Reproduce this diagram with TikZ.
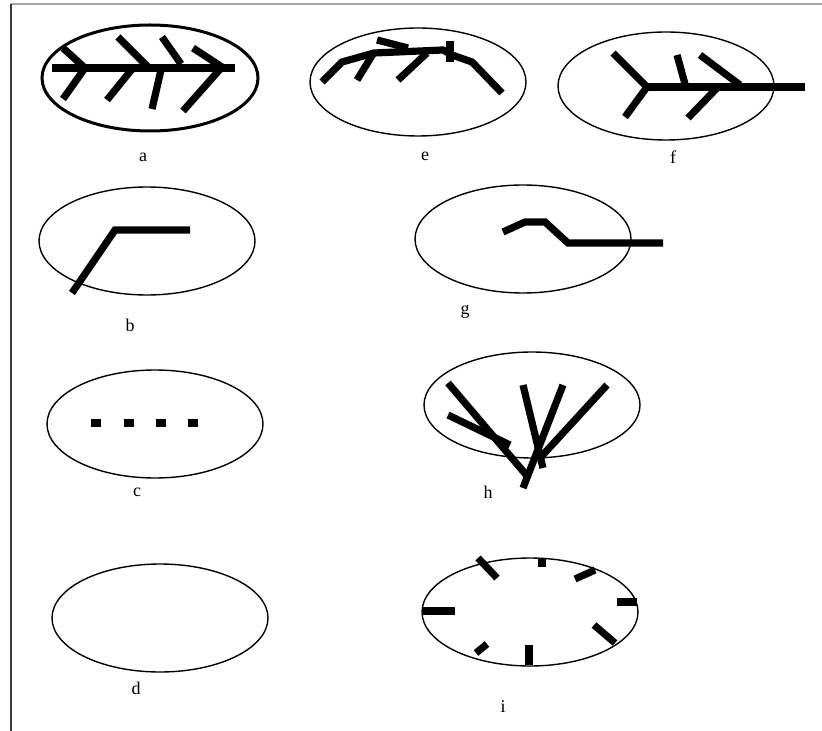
\documentclass[tikz,border=0pt]{standalone}
\usepackage{fontspec}
\setmainfont{Liberation Serif}
\usetikzlibrary{positioning}

\begin{document}
\begin{tikzpicture}[
  x=0.5pt, y=-0.5pt,
  frame/.style={line width=1pt},
  outline/.style={line width=0.7pt},
  boldoutline/.style={line width=1.5pt},
  bar/.style={line width=3.6pt, line cap=butt, line join=miter},
  dot/.style={fill=black, inner sep=0pt, minimum width=5pt, minimum height=4pt},
  tag/.style={font=\fontsize{9}{10}\selectfont, inner sep=0pt}
]
\useasboundingbox (0,0) rectangle (822,731);
% frame
\draw[frame, gray!70] (11,4.5) -- (822,4.5);
\draw[frame, gray!45!black] (11,4.5) -- (11,731);

% a
\draw[boldoutline] (150,78) ellipse [x radius=54pt, y radius=26.5pt];
\draw[bar] (52,68) -- (235,68);
\draw[bar] (63,48) -- (85,68) -- (63,99);
\draw[bar] (118,37) -- (148,67);
\draw[bar] (133,68) -- (107,100);
\draw[bar] (162,37) -- (181,64);
\draw[bar] (161,70) -- (152,109);
\draw[bar] (193,48) -- (222,67) -- (183,111);
\node[tag] (la) at (143,157) {a};

% e
\draw[outline] (418,82) ellipse [x radius=54pt, y radius=27pt];
\draw[bar] (322,82) -- (342,62) -- (374,53) -- (443,50) -- (452,55) -- (472,62) -- (502,93);
\draw[bar] (377,40) -- (408,48);
\draw[bar] (357,80) -- (373,54);
\draw[bar] (398,80) -- (427,53);
\draw[bar] (450,41) -- (450,62);
\node[tag] (le) at (425,156) {e};

% f
\draw[outline] (666,86) ellipse [x radius=54pt, y radius=27pt];
\draw[bar] (647,87) -- (805,87);
\draw[bar] (613,53) -- (647,87) -- (625,117);
\draw[bar] (677,55) -- (685,84);
\draw[bar] (717,88) -- (688,118);
\draw[bar] (700,55) -- (740,85);
\node[tag] (lf) at (673,157) {f};

% b
\draw[outline] (147,241) ellipse [x radius=54pt, y radius=27pt];
\draw[bar] (72,293) -- (115,230) -- (190,230);
\node[tag] (lb) at (130,325) {b};

% g
\draw[outline] (523,239) ellipse [x radius=54pt, y radius=27pt];
\draw[bar] (503,232) -- (525,222) -- (545,222) -- (568,243) -- (663,243);
\node[tag] (lg) at (465,312) {g};

% c
\draw[outline] (155,424) ellipse [x radius=54pt, y radius=27pt];
\foreach \px [count=\k] in {96,129,161,193}
  \node[dot] (sq\k) at (\px,423) {};
\node[tag] (lc) at (137,492) {c};

% h
\draw[outline] (532,405) ellipse [x radius=54pt, y radius=26.5pt];
\draw[bar] (448,383) -- (528,477);
\draw[bar] (448,415) -- (510,445);
\draw[bar] (523,385) -- (543,468);
\draw[bar] (563,385) -- (523,488);
\draw[bar] (607,385) -- (540,458);
\node[tag] (lh) at (488,492) {h};

% d
\draw[outline] (160,618) ellipse [x radius=54pt, y radius=27pt];
\node[tag] (ld) at (136,688) {d};

% i
\draw[outline] (530,612) ellipse [x radius=54pt, y radius=27pt];
\draw[bar] (478,558) -- (497,578);
\draw[bar] (542,558) -- (542,567);
\draw[bar] (575,579) -- (595,570);
\draw[bar] (617,602) -- (637,602);
\draw[bar] (594,625) -- (615,643);
\draw[bar] (529,645) -- (529,665);
\draw[bar] (476,653) -- (487,644);
\draw[bar] (423,611) -- (455,611);
\node[tag] (li) at (503,707) {i};
\end{tikzpicture}
\end{document}
